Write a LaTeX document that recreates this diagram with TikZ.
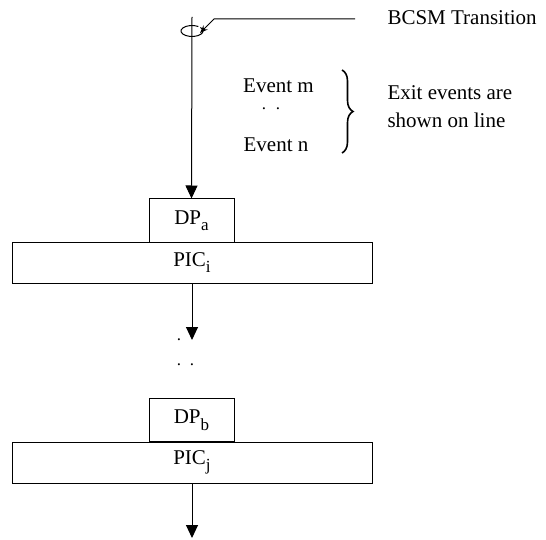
\documentclass[tikz,border=0pt]{standalone}
\usepackage{fontspec}
\setmainfont{Liberation Serif}
\usetikzlibrary{arrows.meta,decorations.pathreplacing}
% lowered subscript in the style of the box labels
\newcommand{\lowsub}[1]{\raisebox{-6.5pt}{\fontsize{17}{17}\selectfont #1}}
\begin{document}
\begin{tikzpicture}[x=1pt,y=-1pt,
  line width=1pt,
  txt/.style={font=\fontsize{21}{24}\selectfont, inner sep=0pt},
  dotmark/.style={font=\fontsize{17}{17}\selectfont, inner sep=0pt,
    text height=2pt, text depth=0pt},
  dpbox/.style={draw, line width=1pt, inner sep=0pt, minimum width=85pt,
    minimum height=43pt, font=\fontsize{21}{24}\selectfont, fill=white},
  picbox/.style={draw, line width=1pt, inner sep=0pt, minimum width=360pt,
    minimum height=41pt, font=\fontsize{21}{24}\selectfont, fill=white},
  flow/.style={-{Triangle[length=13pt,width=12pt]}},
  leader/.style={line width=1pt, -{Stealth[length=8pt,width=6pt]}},
]
\useasboundingbox (0,0) rectangle (546,540);

% boxes
\node[dpbox]  (dpa)  at (191.5,220.5) {DP\lowsub{a}};
\node[picbox] (pici) at (192,262.5)   {PIC\lowsub{i}};
\node[dpbox]  (dpb)  at (191.5,420)   {DP\lowsub{b}};
\node[picbox] (picj) at (192,462.5)   {PIC\lowsub{j}};

% main transition line with its loop
\coordinate (top) at (192,17);
\draw[flow] (top) -- (dpa.north);
\draw[line width=1pt] (192,31) ++(55:11pt and 5.5pt) arc[start angle=55, end angle=400, x radius=11pt, y radius=5.5pt];

% label with leader
\node[txt, anchor=base west] (bcsm) at (387,25) {BCSM Transition};
\coordinate (lstart) at (355,19);
\coordinate (lknee) at (214,19);
\coordinate (ltip) at (200,33);
\draw[leader] (lstart) -- (lknee) -- (ltip);

% exit events
\node[txt, text depth=0pt, anchor=base] (evm) at (278.5,93) {Event m};
\node[dotmark, anchor=base] (evdots) at (271,110) {.\hspace{10pt}.};
\node[txt, anchor=base] (evn) at (276,152) {Event n};
\coordinate (brtop) at (342,70);
\coordinate (brbot) at (342,153);
\draw[line width=1.6pt, decorate, decoration={brace, amplitude=11pt}] (brtop) -- (brbot);
\node[txt, anchor=base west] (exit1) at (387,100) {Exit events are};
\node[txt, anchor=base west] (exit2) at (387,128) {shown on line};

% continuation
\coordinate (c1) at (192,340);
\draw[flow] (pici.south) -- (c1);
\node[dotmark, anchor=base] (dot1) at (179,340) {.};
\node[dotmark, anchor=base] (dot2) at (185.5,365) {.\hspace{9pt}.};

\coordinate (c2) at (192,538);
\draw[flow] (picj.south) -- (c2);
\end{tikzpicture}
\end{document}
